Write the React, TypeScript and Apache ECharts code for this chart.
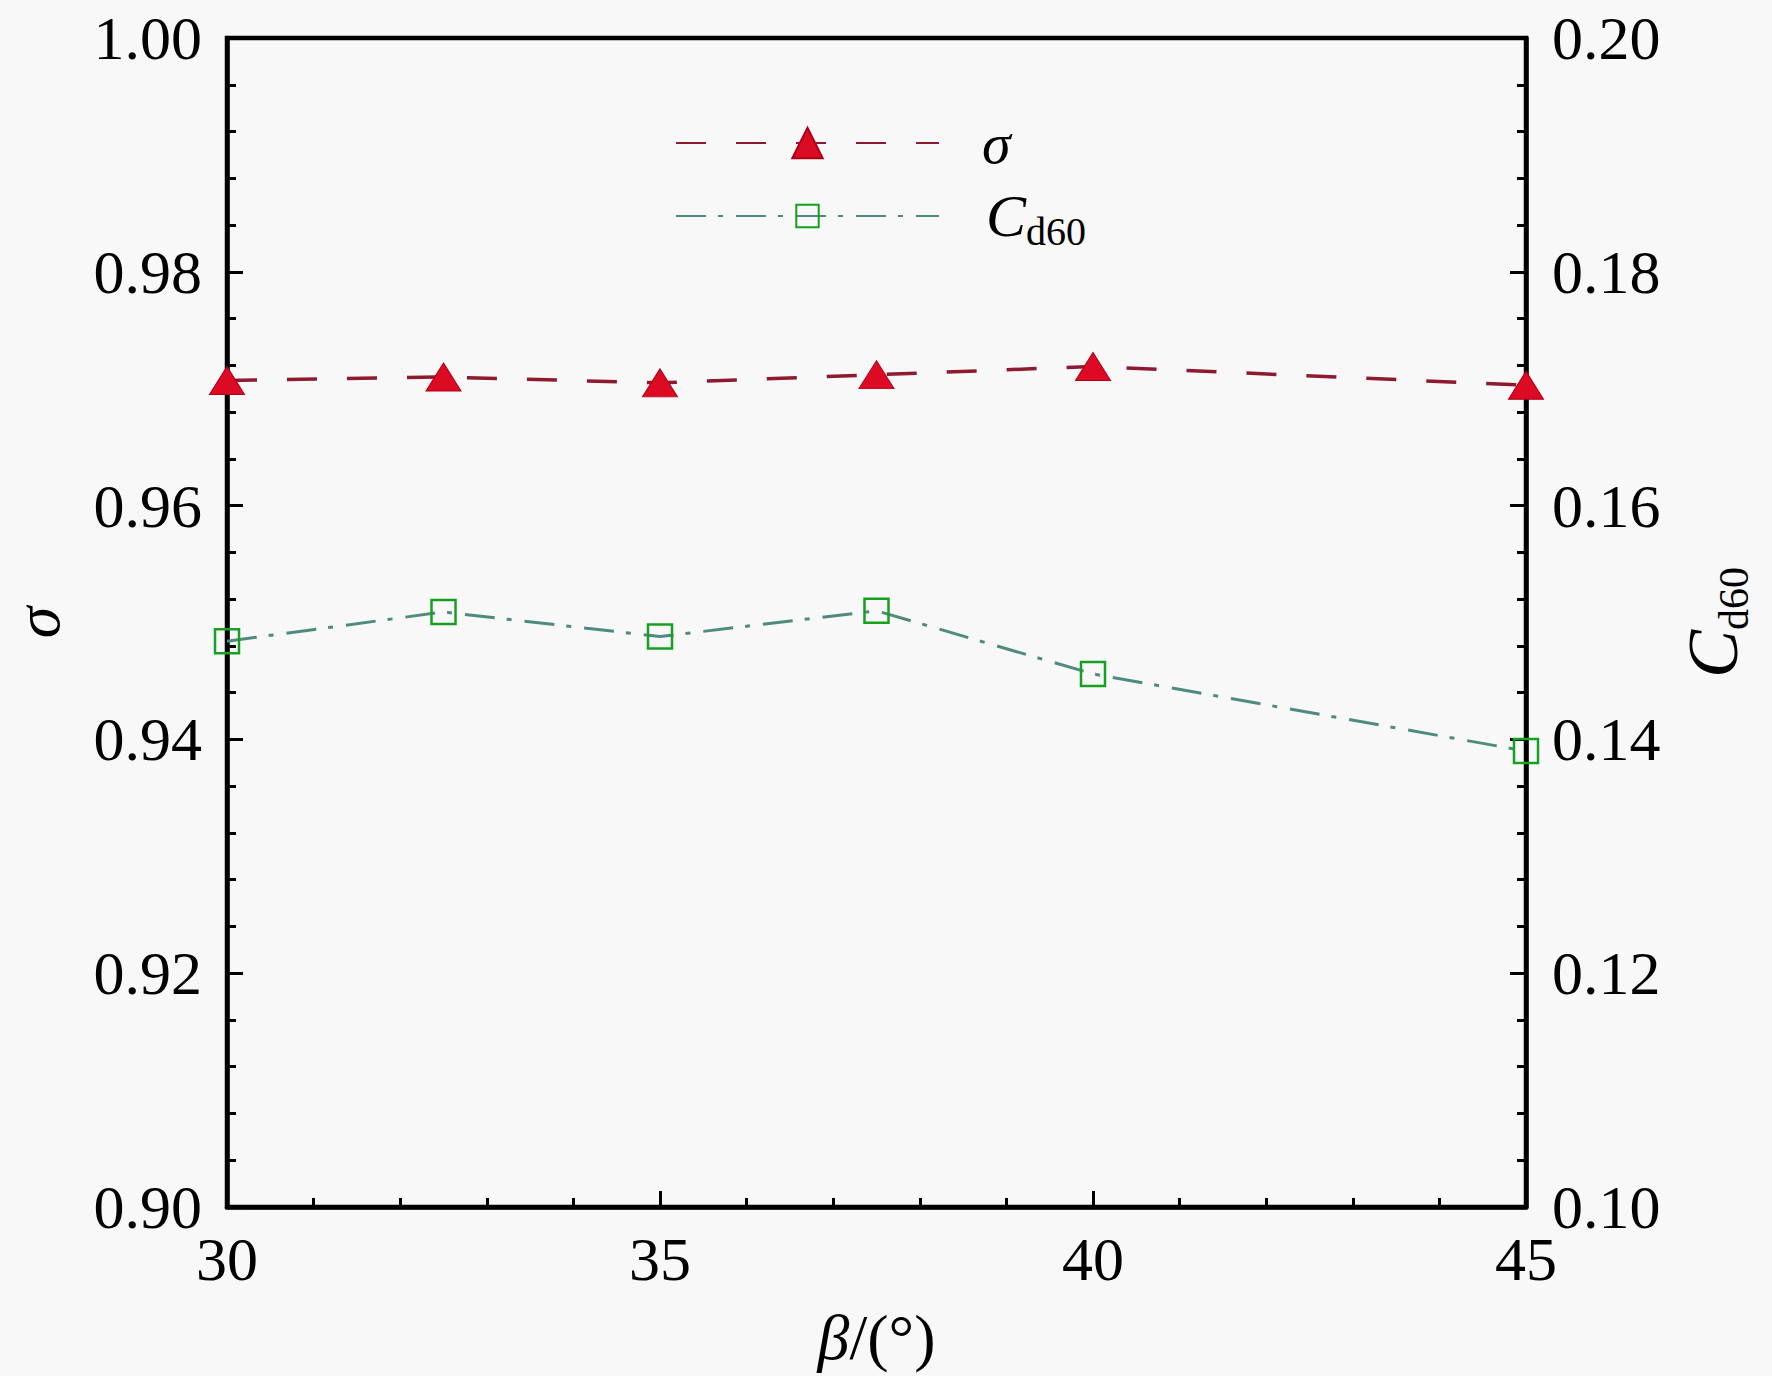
import { useEffect, useRef } from 'react';
import * as echarts from 'echarts';

// beta angle (deg) on the x axis
const betaValues = [30, 32.5, 35, 37.5, 40, 45];
// sigma, left axis
const sigmaValues = [0.9707, 0.971, 0.9705, 0.9712, 0.9719, 0.9703];
// C_d60, right axis
const cd60Values = [0.1484, 0.1509, 0.1488, 0.151, 0.1456, 0.139];

const seriesNames = ['σ', 'Cd60'];

const FONT = '"Liberation Serif", "Times New Roman", serif';

const App = () => {
  const chartRef = useRef<HTMLDivElement>(null);

  useEffect(() => {
    if (!chartRef.current) return;

    const myChart = echarts.init(chartRef.current, undefined, { renderer: 'svg' });

    const tick = {
      show: true,
      inside: true,
      length: 16,
      lineStyle: { color: '#000', width: 3 }
    };
    const minor = {
      show: true,
      splitNumber: 5,
      length: 9,
      lineStyle: { color: '#000', width: 3 }
    };
    const axisLine = { show: true, onZero: false, lineStyle: { color: '#000', width: 4.5 } };
    const label = (margin: number, padding: number[], fmt?: (v: number) => string) => ({
      show: true,
      margin,
      padding,
      color: '#000',
      fontFamily: FONT,
      fontSize: 62,
      formatter: fmt
    });
    const cdRich = {
      c: { fontFamily: FONT, fontStyle: 'italic', fontSize: 60, lineHeight: 60, color: '#000' },
      s: { fontFamily: FONT, fontSize: 40, lineHeight: 30, padding: [30, 0, 0, 0], color: '#000' }
    };

    const option = {
      animation: false,
      backgroundColor: '#f8f8f8',
      grid: {
        left: 227,
        right: 246,
        top: 38,
        bottom: 169,
        outerBoundsMode: 'none',
        containLabel: false,
        show: true,
        borderColor: '#000',
        borderWidth: 4.5,
        backgroundColor: 'transparent'
      },
      legend: [
        {
          data: [seriesNames[0]],
          selectedMode: false,
          left: 675,
          top: 114,
          padding: 0,
          itemWidth: 263,
          itemHeight: 38,
          textStyle: {
            fontFamily: FONT,
            fontStyle: 'italic',
            fontSize: 58,
            lineHeight: 38,
            color: '#000',
            padding: [0, 0, 0, 38]
          }
        },
        {
          data: [seriesNames[1]],
          selectedMode: false,
          left: 675,
          top: 181,
          padding: 0,
          itemWidth: 263,
          itemHeight: 28,
          formatter: '{c|C}{s|d60}',
          textStyle: { padding: [0, 0, 0, 42], rich: cdRich }
        }
      ],
      xAxis: {
        type: 'value',
        min: 30,
        max: 45,
        interval: 5,
        name: '{i|β}{n|/(°)}',
        nameLocation: 'middle',
        nameGap: 103,
        nameTextStyle: {
          rich: {
            i: { fontFamily: FONT, fontStyle: 'italic', fontSize: 64, lineHeight: 54, color: '#000' },
            n: { fontFamily: FONT, fontSize: 64, lineHeight: 54, color: '#000' }
          }
        },
        axisLine,
        axisTick: tick,
        minorTick: minor,
        splitLine: { show: false },
        axisLabel: label(21, [0, 0, 0, 0])
      },
      yAxis: [
        {
          type: 'value',
          position: 'left',
          min: 0.9,
          max: 1.0,
          interval: 0.02,
          name: 'σ',
          nameLocation: 'middle',
          nameGap: 168,
          nameTextStyle: {
            fontFamily: FONT,
            fontStyle: 'italic',
            fontSize: 64,
            lineHeight: 44,
            color: '#000'
          },
          axisLine,
          axisTick: tick,
          minorTick: minor,
          splitLine: { show: false },
          axisLabel: label(25, [0, 0, 24, 0], (v: number) => v.toFixed(2))
        },
        {
          type: 'value',
          position: 'right',
          min: 0.1,
          max: 0.2,
          interval: 0.02,
          name: '{c|C}{s|d60}',
          nameLocation: 'middle',
          nameGap: 136,
          nameTextStyle: {
            rich: {
              c: { fontFamily: FONT, fontStyle: 'italic', fontSize: 72, lineHeight: 84, color: '#000' },
              s: { fontFamily: FONT, fontSize: 42, lineHeight: 42, padding: [42, 0, 0, 0], color: '#000' }
            }
          },
          axisLine,
          axisTick: tick,
          minorTick: minor,
          splitLine: { show: false },
          axisLabel: label(26, [0, 0, 24, 0], (v: number) => v.toFixed(2))
        }
      ],
      series: [
        {
          name: seriesNames[0],
          type: 'line',
          yAxisIndex: 0,
          data: betaValues.map((b, i) => [b, sigmaValues[i]]),
          symbol: 'triangle',
          symbolSize: [35, 28],
          itemStyle: { color: '#dc0a22', borderColor: '#b00018', borderWidth: 1 },
          lineStyle: { color: '#8e1a30', width: 3.5, type: [30, 30] },
          z: 3
        },
        {
          name: seriesNames[1],
          type: 'line',
          yAxisIndex: 1,
          data: betaValues.map((b, i) => [b, cd60Values[i]]),
          symbol: 'rect',
          symbolSize: 24,
          itemStyle: { color: 'rgba(255,255,255,0)', borderColor: '#16a020', borderWidth: 2.5 },
          lineStyle: { color: '#4f8a80', width: 3, type: [30, 12, 5, 13] },
          z: 2
        }
      ]
    };

    myChart.setOption(option);

    return () => {
      myChart.dispose();
    };
  }, []);

  return (
    <div
      ref={chartRef}
      style={{ position: 'absolute', left: 0, top: 0, width: '1772px', height: '1376px' }}
    />
  );
};

export default App;
